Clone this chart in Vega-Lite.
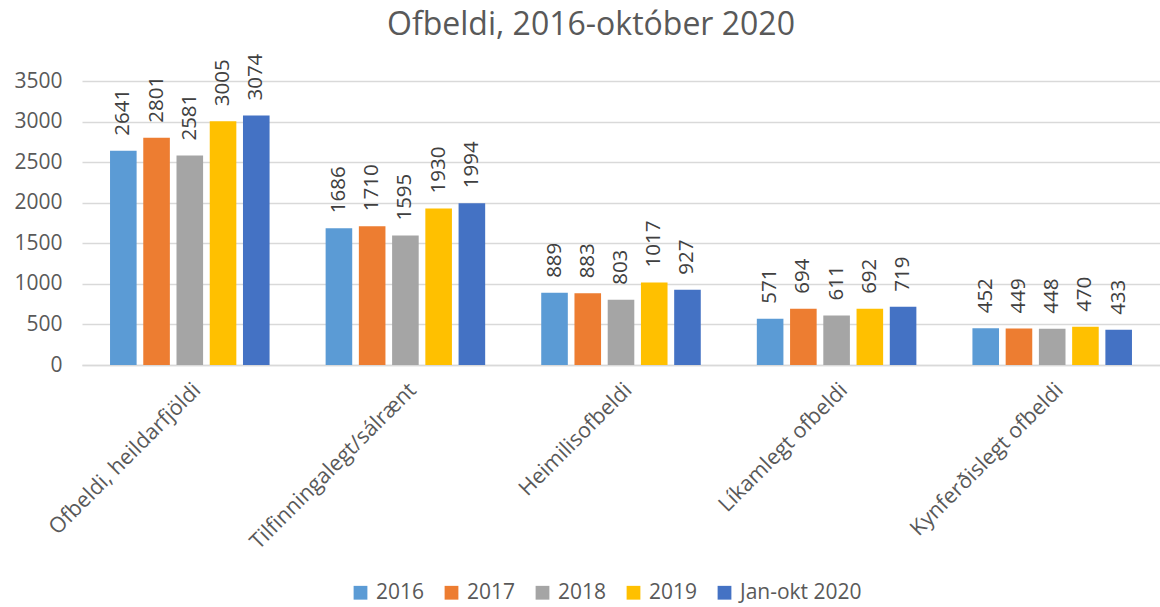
{
  "$schema": "https://vega.github.io/schema/vega-lite/v6.json",
  "width": 1078,
  "height": 284,
  "autosize": {"type": "none"},
  "padding": {"left": 82, "top": 81, "right": 0, "bottom": 242},
  "background": "white",
  "title": {
    "text": "Ofbeldi, 2016-október 2020",
    "font": "Open Sans",
    "fontSize": 32,
    "fontWeight": "normal",
    "color": "#595959",
    "anchor": "middle",
    "frame": "group",
    "dx": -30,
    "offset": 12
  },
  "config": {
    "view": {"stroke": null},
    "font": "Open Sans"
  },
  "data": {
    "values": [
      {"flokkur": "Ofbeldi, heildarfjöldi", "ar": "2016", "fjoldi": 2641},
      {"flokkur": "Ofbeldi, heildarfjöldi", "ar": "2017", "fjoldi": 2801},
      {"flokkur": "Ofbeldi, heildarfjöldi", "ar": "2018", "fjoldi": 2581},
      {"flokkur": "Ofbeldi, heildarfjöldi", "ar": "2019", "fjoldi": 3005},
      {"flokkur": "Ofbeldi, heildarfjöldi", "ar": "Jan-okt 2020", "fjoldi": 3074},
      {"flokkur": "Tilfinningalegt/sálrænt", "ar": "2016", "fjoldi": 1686},
      {"flokkur": "Tilfinningalegt/sálrænt", "ar": "2017", "fjoldi": 1710},
      {"flokkur": "Tilfinningalegt/sálrænt", "ar": "2018", "fjoldi": 1595},
      {"flokkur": "Tilfinningalegt/sálrænt", "ar": "2019", "fjoldi": 1930},
      {"flokkur": "Tilfinningalegt/sálrænt", "ar": "Jan-okt 2020", "fjoldi": 1994},
      {"flokkur": "Heimilisofbeldi", "ar": "2016", "fjoldi": 889},
      {"flokkur": "Heimilisofbeldi", "ar": "2017", "fjoldi": 883},
      {"flokkur": "Heimilisofbeldi", "ar": "2018", "fjoldi": 803},
      {"flokkur": "Heimilisofbeldi", "ar": "2019", "fjoldi": 1017},
      {"flokkur": "Heimilisofbeldi", "ar": "Jan-okt 2020", "fjoldi": 927},
      {"flokkur": "Líkamlegt ofbeldi", "ar": "2016", "fjoldi": 571},
      {"flokkur": "Líkamlegt ofbeldi", "ar": "2017", "fjoldi": 694},
      {"flokkur": "Líkamlegt ofbeldi", "ar": "2018", "fjoldi": 611},
      {"flokkur": "Líkamlegt ofbeldi", "ar": "2019", "fjoldi": 692},
      {"flokkur": "Líkamlegt ofbeldi", "ar": "Jan-okt 2020", "fjoldi": 719},
      {"flokkur": "Kynferðislegt ofbeldi", "ar": "2016", "fjoldi": 452},
      {"flokkur": "Kynferðislegt ofbeldi", "ar": "2017", "fjoldi": 449},
      {"flokkur": "Kynferðislegt ofbeldi", "ar": "2018", "fjoldi": 448},
      {"flokkur": "Kynferðislegt ofbeldi", "ar": "2019", "fjoldi": 470},
      {"flokkur": "Kynferðislegt ofbeldi", "ar": "Jan-okt 2020", "fjoldi": 433}
    ]
  },
  "encoding": {
    "x": {
      "field": "flokkur",
      "type": "nominal",
      "sort": null,
      "scale": {"paddingInner": 0.26, "paddingOuter": 0.13},
      "axis": {
        "title": null,
        "labelAngle": -45,
        "labelAlign": "right",
        "labelBaseline": "top",
        "labelPadding": 14,
        "labelFontSize": 21.5,
        "labelColor": "#595959",
        "labelFont": "Open Sans",
        "ticks": false,
        "domainColor": "#D9D9D9",
        "domainWidth": 1.5,
        "labelLimit": 400
      }
    },
    "xOffset": {
      "field": "ar",
      "type": "nominal",
      "scale": {"paddingInner": 0.2, "paddingOuter": 0}
    },
    "y": {
      "field": "fjoldi",
      "type": "quantitative",
      "scale": {"domain": [0, 3500], "nice": false},
      "axis": {
        "title": null,
        "format": "d",
        "values": [0, 500, 1000, 1500, 2000, 2500, 3000, 3500],
        "domain": false,
        "ticks": false,
        "labelPadding": 20,
        "labelFontSize": 21,
        "labelColor": "#595959",
        "labelFont": "Open Sans",
        "gridColor": "#D9D9D9",
        "gridWidth": 1.5
      }
    }
  },
  "layer": [
    {
      "mark": {"type": "bar"},
      "encoding": {
        "color": {
          "field": "ar",
          "type": "nominal",
          "scale": {
            "domain": ["2016", "2017", "2018", "2019", "Jan-okt 2020"],
            "range": ["#5B9BD5", "#ED7D31", "#A5A5A5", "#FFC000", "#4472C4"]
          },
          "legend": {
            "title": null,
            "orient": "none",
            "legendX": 268,
            "legendY": 501,
            "direction": "horizontal",
            "symbolType": "square",
            "symbolSize": 190,
            "symbolStrokeWidth": 0,
            "labelFontSize": 21,
            "labelColor": "#595959",
            "labelFont": "Open Sans",
            "columnPadding": 16,
            "symbolOffset": 0,
            "labelOffset": 5
          }
        }
      }
    },
    {
      "mark": {
        "type": "text",
        "angle": -90,
        "align": "left",
        "baseline": "middle",
        "dx": 15,
        "fontSize": 20.5,
        "font": "Open Sans",
        "color": "#404040"
      },
      "encoding": {
        "text": {"field": "fjoldi", "type": "quantitative"}
      }
    }
  ]
}
